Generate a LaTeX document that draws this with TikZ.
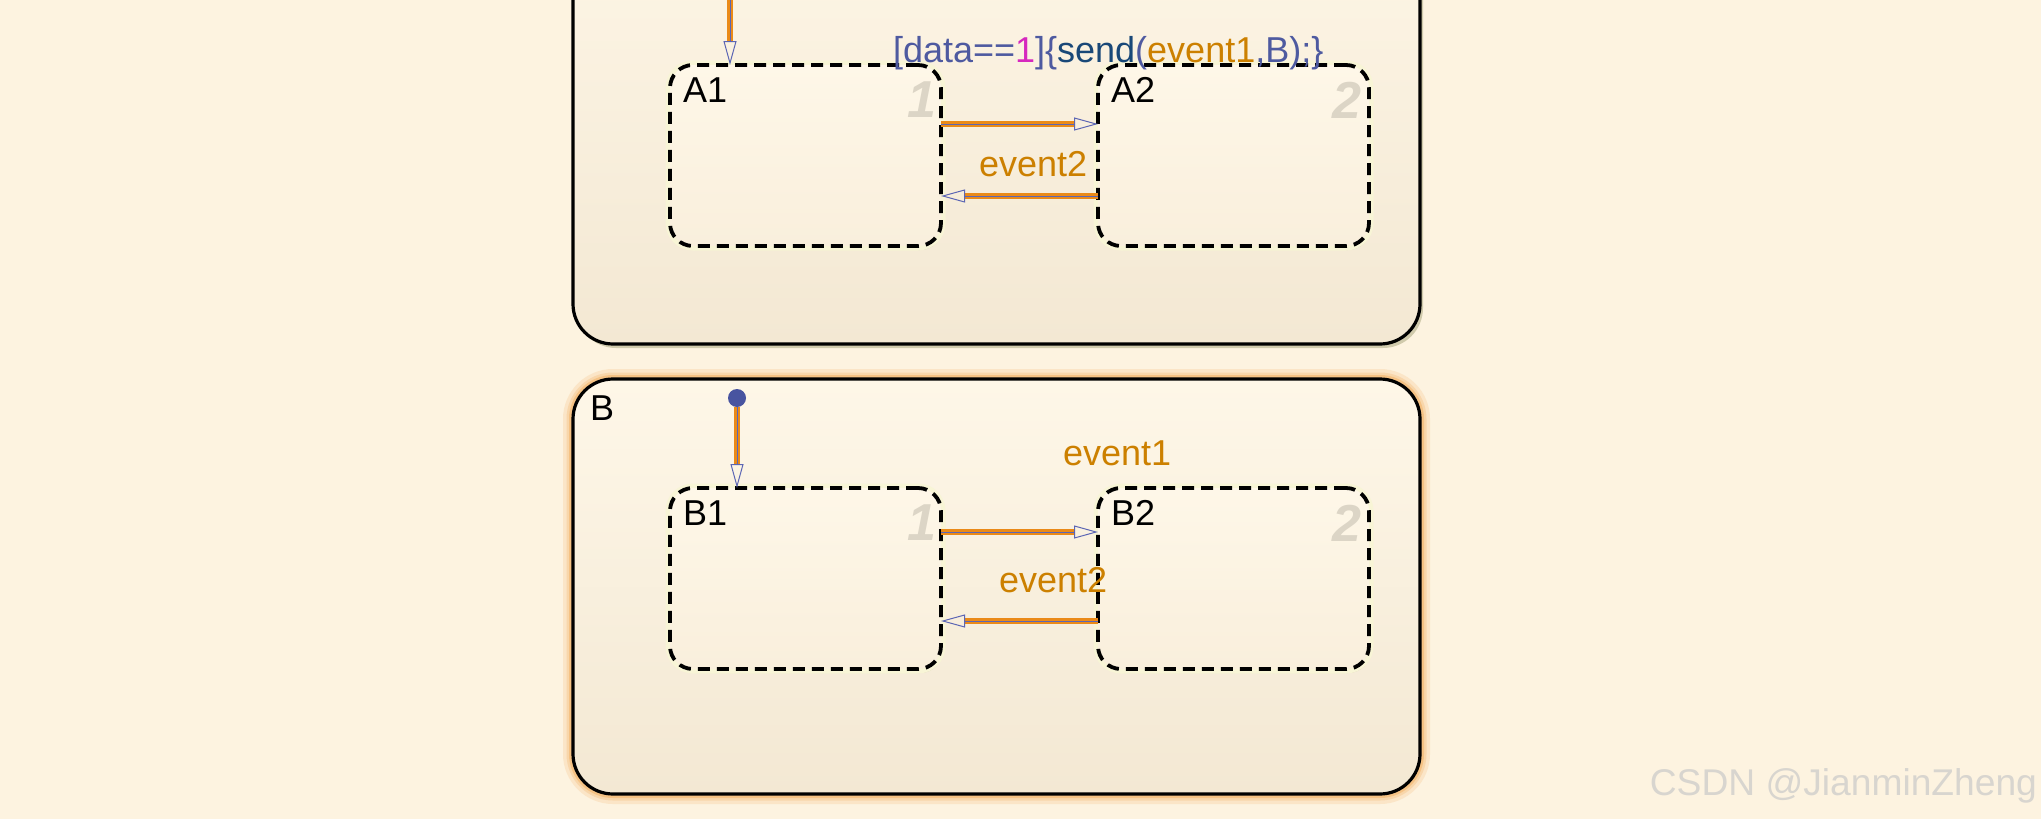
\documentclass[tikz,border=0pt]{standalone}
\usepackage{fontspec}
\setmainfont{Liberation Sans}
\usetikzlibrary{arrows.meta,shadows}
\definecolor{bgc}{RGB}{253,243,224}
\definecolor{atop}{RGB}{253,245,229}
\definecolor{abot}{RGB}{243,232,211}
\definecolor{subtop}{RGB}{254,247,232}
\definecolor{subbot}{RGB}{249,239,220}
\definecolor{orangeL}{RGB}{234,138,24}
\definecolor{blueL}{RGB}{92,102,180}
\definecolor{dotc}{RGB}{72,84,160}
\definecolor{lorange}{RGB}{204,128,0}
\definecolor{lblue}{RGB}{78,90,160}
\definecolor{lmag}{RGB}{214,40,190}
\definecolor{sendc}{RGB}{25,72,120}
\definecolor{numc}{RGB}{220,213,198}
\definecolor{wmc}{RGB}{216,213,207}
\definecolor{glowc}{RGB}{242,170,86}
\definecolor{shadc}{RGB}{190,186,150}
\definecolor{haloc}{RGB}{248,245,214}
\newcommand\mytrans[2]{%
  \draw[transbody] #1 -- #2;
  \draw[transtip] #1 -- #2;}
\begin{document}
\begin{tikzpicture}[x=0.5pt,y=-0.5pt,
  superstate/.style={draw=black, line width=1.6pt, rounded corners=20pt,
    inner sep=0pt, outer sep=0pt, minimum width=423.5pt, top color=atop, bottom color=abot},
  substate/.style={draw=black, line width=1.9pt, dash pattern=on 6pt off 3.5pt,
    rounded corners=11.5pt, minimum width=135.5pt, minimum height=90.5pt,
    inner sep=0pt, outer sep=0pt, top color=subtop, bottom color=subbot,
    drop shadow={shadow xshift=1pt, shadow yshift=-2pt, fill=shadc, opacity=0.6},
    preaction={draw=haloc, solid, line width=4.5pt}},
  transbody/.style={draw=orangeL, line width=2.6pt, shorten >=11.5pt},
  transtip/.style={draw=blueL, line width=0.5pt,
    -{Triangle[open, length=12pt, width=6.5pt]}},
  lbl/.style={inner sep=0pt, outer sep=0pt, anchor=base west,
    font=\fontsize{18pt}{21pt}\selectfont},
  num/.style={inner sep=0pt, outer sep=0pt, anchor=north east, text=numc,
    font=\fontsize{26pt}{30pt}\selectfont\bfseries\itshape},
  dot/.style={circle, fill=dotc, inner sep=0pt, outer sep=0pt, minimum size=9pt}]
\useasboundingbox (0,0) rectangle (2041,819);
\fill[bgc] (0,0) rectangle (2041,819);
% super states
\node[superstate, minimum height=202pt,
  drop shadow={shadow xshift=1.5pt, shadow yshift=-2pt, fill=shadc, opacity=0.7}]
  (A) at (996.5,142) {};
\node[superstate, minimum height=207.5pt, top color=subtop, bottom color=abot,
  preaction={draw=glowc, line width=10pt, draw opacity=0.18},
  preaction={draw=glowc, line width=6.5pt, draw opacity=0.25},
  preaction={draw=glowc, line width=4pt, draw opacity=0.45}]
  (B) at (996.5,586.5) {};
\node[lbl] (Blbl) at (590,420) {B};
% sub states
\node[substate] (A1) at (805.5,155.5) {};
\node[substate] (A2) at (1233.5,155.5) {};
\node[substate] (B1) at (805.5,578.5) {};
\node[substate] (B2) at (1233.5,578.5) {};
\foreach \s in {A1,A2,B1,B2}{
  \node[lbl] (\s lbl) at ([xshift=6.5pt,yshift=-18.5pt]\s.north west) {\s};
}
\node[num] (A1n) at ([xshift=-2.5pt,yshift=-8.5pt]A1.north east) {1};
\node[num] (A2n) at ([xshift=-4pt,yshift=-8.5pt]A2.north east) {2};
\node[num] (B1n) at ([xshift=-2.5pt,yshift=-8.5pt]B1.north east) {1};
\node[num] (B2n) at ([xshift=-4pt,yshift=-8.5pt]B2.north east) {2};
% transitions in A
\coordinate (a0) at (730,-5);
\mytrans{(a0)}{(a0 |- A1.north)}
\mytrans{([yshift=15.75pt]A1.east)}{([yshift=15.75pt]A2.west)}
\mytrans{([yshift=-20.25pt]A2.west)}{([yshift=-20.25pt]A1.east)}
\node[lbl] (t1) at (893,62) {{\color{lblue}[data==}{\color{lmag}1}{\color{lblue}]\{}{\color{sendc}send}{\color{lblue}(}{\color{lorange}event1}{\color{lblue},B);\}}};
\node[lbl, text=lorange] (t2) at (979,176) {event2};
% transitions in B
\node[dot] (b0) at (737,398) {};
\mytrans{(b0.south)}{(b0 |- B1.north)}
\mytrans{([yshift=23.25pt]B1.east)}{([yshift=23.25pt]B2.west)}
\mytrans{([yshift=-21.25pt]B2.west)}{([yshift=-21.25pt]B1.east)}
\node[lbl, text=lorange] (t3) at (1063,465) {event1};
\node[lbl, text=lorange] (t4) at (999,592) {event2};
% watermark
\node[lbl, anchor=base east, text=wmc, font=\fontsize{18.6pt}{21pt}\selectfont] (wm) at (2037,795) {CSDN @JianminZheng};
\end{tikzpicture}
\end{document}
